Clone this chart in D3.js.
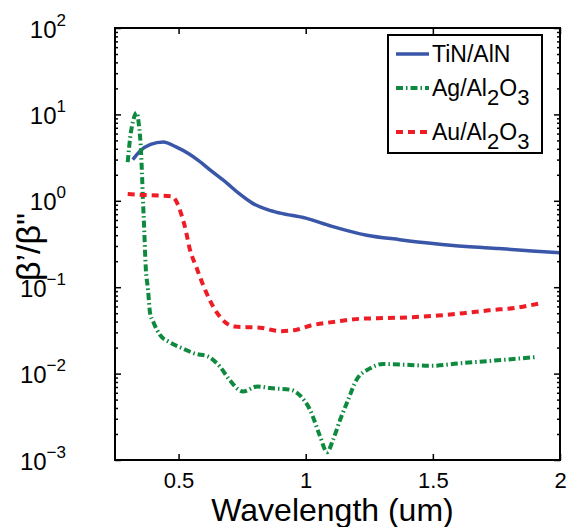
<!DOCTYPE html>
<html>
<head>
<meta charset="utf-8">
<script src="https://cdn.jsdelivr.net/npm/d3@7"></script>
<style>
  body { margin: 0; background: #fff; }
  text { font-family: "Liberation Sans", Arial, sans-serif; }
</style>
</head>
<body>
<svg id="chart" width="568" height="527"></svg>
<script>
// data
const tinLambda = [0.32, 0.35, 0.39, 0.44, 0.49, 0.54, 0.58, 0.63, 0.69, 0.74, 0.79, 0.85, 0.90, 1.0, 1.1, 1.24, 1.37, 1.5, 1.63, 1.76, 1.89, 2.0];
const tinRatio = [3.0, 3.8, 4.5, 4.8, 4.2, 3.5, 2.9, 2.2, 1.6, 1.2, 0.94, 0.79, 0.72, 0.63, 0.51, 0.40, 0.355, 0.32, 0.295, 0.28, 0.263, 0.25];

const agLambda = [0.30, 0.31, 0.32, 0.335, 0.345, 0.352, 0.356, 0.36, 0.365, 0.37, 0.38, 0.388, 0.40, 0.427, 0.466, 0.517, 0.565, 0.615, 0.663, 0.70, 0.753, 0.81, 0.86, 0.94, 0.977, 1.017, 1.056, 1.084, 1.107, 1.135, 1.166, 1.2, 1.253, 1.304, 1.41, 1.49, 1.61, 1.736, 1.9];
const agRatio = [2.8, 5.5, 8.1, 10.5, 7.1, 3.9, 2.1, 1.02, 0.46, 0.19, 0.093, 0.050, 0.040, 0.028, 0.023, 0.0195, 0.017, 0.0158, 0.012, 0.0085, 0.0062, 0.0071, 0.0068, 0.0065, 0.0056, 0.0038, 0.0019, 0.00123, 0.0017, 0.0029, 0.0049, 0.0085, 0.0115, 0.0129, 0.0126, 0.0123, 0.0132, 0.0141, 0.0155];

const auLambda = [0.30, 0.36, 0.42, 0.47, 0.49, 0.51, 0.525, 0.545, 0.57, 0.60, 0.65, 0.68, 0.72, 0.82, 0.90, 0.96, 1.02, 1.12, 1.21, 1.32, 1.42, 1.52, 1.62, 1.72, 1.83, 1.92];
const auRatio = [1.2, 1.17, 1.15, 1.13, 1.0, 0.71, 0.5, 0.27, 0.17, 0.1, 0.051, 0.04, 0.035, 0.034, 0.031, 0.032, 0.036, 0.040, 0.043, 0.044, 0.045, 0.047, 0.050, 0.054, 0.058, 0.065];

const xTicks = [0.5, 1, 1.5, 2];
const yExponents = [-3, -2, -1, 0, 1, 2];

const margin = { top: 28, right: 8, bottom: 67, left: 115 };
const W = 568, H = 527;
const width = W - margin.left - margin.right,
  height = H - margin.top - margin.bottom;

const svg = d3.select("#chart");
const g = svg.append("g").attr("transform", "translate(" + margin.left + "," + margin.top + ")");

const x = d3.scaleLinear().domain([0.25, 2]).range([0, width]);
const y = d3.scaleLog().domain([1e-3, 1e2]).range([height, 0]);

// minor log ticks
const minors = [];
yExponents.slice(0, -1).forEach((e) => {
  for (let k = 2; k <= 9; k++) minors.push(k * Math.pow(10, e));
});
const majors = yExponents.map((e) => Math.pow(10, e));

const line = d3.line()
  .x((d) => x(d[0]))
  .y((d) => y(d[1]))
  .curve(d3.curveMonotoneX);

const series = [
  { name: "TiN/AlN", lam: tinLambda, val: tinRatio, color: "#3a56a8", dash: null, w: 3.5 },
  { name: "Ag/Al2O3", lam: agLambda, val: agRatio, color: "#0d8a3e", dash: "7,3,1.5,3", w: 4 },
  { name: "Au/Al2O3", lam: auLambda, val: auRatio, color: "#ee1c25", dash: "7,5", w: 4 },
];

g.append("clipPath").attr("id", "clip")
  .append("rect").attr("width", width).attr("height", height);

g.append("g").attr("clip-path", "url(#clip)")
  .selectAll("path")
  .data(series)
  .enter()
  .append("path")
  .attr("d", (s) => line(s.lam.map((l, i) => [l, s.val[i]])))
  .attr("fill", "none")
  .attr("stroke", (s) => s.color)
  .attr("stroke-width", (s) => s.w)
  .attr("stroke-dasharray", (s) => s.dash);

// axes, ticks inward on all four sides
const axisStyle = (sel) => {
  sel.selectAll(".domain").remove();
  sel.selectAll(".tick line").attr("stroke", "#000").attr("stroke-width", 1.5);
};

const xb = g.append("g").attr("transform", "translate(0," + height + ")")
  .call(d3.axisBottom(x).tickValues(xTicks).tickSize(-6).tickPadding(11).tickFormat(d3.format("")))
  .call(axisStyle);
xb.selectAll(".tick text").attr("font-size", 22).attr("fill", "#000").attr("dy", "0.75em");

g.append("g")
  .call(d3.axisTop(x).tickValues(xTicks).tickSize(-6).tickFormat(""))
  .call(axisStyle);

const yl = g.append("g")
  .call(d3.axisLeft(y).tickValues(majors).tickSize(-6).tickFormat(""))
  .call(axisStyle);
yl.selectAll(".tick").each(function (d) {
  const t = d3.select(this).append("text")
    .attr("x", -49).attr("y", 9)
    .attr("font-size", 24).attr("fill", "#000");
  t.append("tspan").text("10");
  t.append("tspan").attr("dy", -12).attr("font-size", 17).text(String(Math.round(Math.log10(d))).replace("-", "\u2212"));
});
g.append("g")
  .call(d3.axisLeft(y).tickValues(minors).tickSize(-3).tickFormat(""))
  .call(axisStyle);

g.append("g").attr("transform", "translate(" + width + ",0)")
  .call(d3.axisRight(y).tickValues(majors).tickSize(-6).tickFormat(""))
  .call(axisStyle);
g.append("g").attr("transform", "translate(" + width + ",0)")
  .call(d3.axisRight(y).tickValues(minors).tickSize(-3).tickFormat(""))
  .call(axisStyle);

g.append("rect")
  .attr("width", width).attr("height", height)
  .attr("fill", "none").attr("stroke", "#000").attr("stroke-width", 2);

// axis labels
svg.append("text")
  .attr("x", margin.left + width / 2 - 5)
  .attr("y", 521)
  .attr("text-anchor", "middle")
  .attr("font-size", 32)
  .text("Wavelength (um)");

svg.append("text")
  .attr("transform", "translate(40," + (margin.top + height / 2 + 3) + ") rotate(-90)")
  .attr("text-anchor", "middle")
  .attr("font-size", 34)
  .text("\u03b2\u2019/\u03b2\"");

// legend
const lg = svg.append("g").attr("transform", "translate(388,35)");
lg.append("rect").attr("width", 154).attr("height", 118)
  .attr("fill", "#fff").attr("stroke", "#000").attr("stroke-width", 2);
const rows = [19, 53, 97];
series.forEach((s, i) => {
  lg.append("line")
    .attr("x1", 8).attr("x2", 41)
    .attr("y1", rows[i]).attr("y2", rows[i])
    .attr("stroke", s.color).attr("stroke-width", s.w)
    .attr("stroke-dasharray", s.dash);
  const t = lg.append("text").attr("x", 44).attr("y", rows[i] + 8).attr("font-size", 23);
  if (i === 0) {
    t.text(s.name);
  } else {
    const base = s.name.slice(0, 5);
    t.append("tspan").text(base);
    t.append("tspan").attr("dy", 9).attr("font-size", 22).text("2");
    t.append("tspan").attr("dy", -9).text("O");
    t.append("tspan").attr("dy", 9).attr("font-size", 22).text("3");
  }
});
</script>
</body>
</html>
